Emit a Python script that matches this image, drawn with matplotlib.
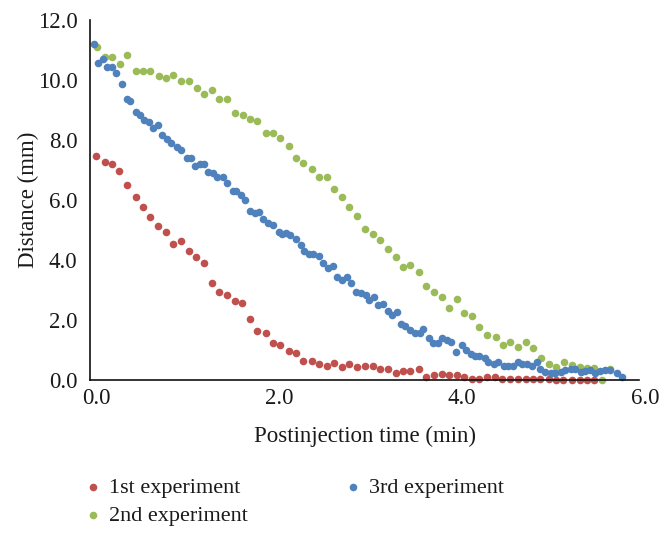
import matplotlib.pyplot as plt
import matplotlib.transforms as mtransforms

# Postinjection time (min) and distance (mm) for each experiment
time_1 = [0.07, 0.16, 0.24, 0.32, 0.41, 0.50, 0.58, 0.66, 0.74, 0.83, 0.91, 1.00, 1.08, 1.16, 1.25,
          1.33, 1.41, 1.50, 1.58, 1.66, 1.75, 1.83, 1.92, 2.00, 2.08, 2.17, 2.25, 2.33, 2.42, 2.50,
          2.59, 2.67, 2.75, 2.83, 2.92, 3.00, 3.09, 3.17, 3.25, 3.34, 3.42, 3.50, 3.59, 3.67, 3.76,
          3.84, 3.92, 4.01, 4.09, 4.17, 4.25, 4.34, 4.42, 4.50, 4.59, 4.68, 4.76, 4.84, 4.92, 5.01,
          5.09, 5.17, 5.26, 5.35, 5.43, 5.51]
dist_1 = [7.47, 7.27, 7.20, 6.96, 6.49, 6.11, 5.76, 5.44, 5.13, 4.93, 4.54, 4.62, 4.30, 4.09, 3.89,
          3.24, 2.92, 2.83, 2.64, 2.56, 2.02, 1.64, 1.56, 1.24, 1.18, 0.98, 0.89, 0.64, 0.64, 0.53,
          0.47, 0.56, 0.44, 0.53, 0.42, 0.47, 0.47, 0.36, 0.36, 0.22, 0.29, 0.29, 0.36, 0.11, 0.16,
          0.20, 0.16, 0.16, 0.11, 0.04, 0.04, 0.11, 0.11, 0.04, 0.04, 0.04, 0.04, 0.04, 0.04, 0.04,
          0.00, 0.00, 0.00, 0.00, 0.00, 0.00]

time_2 = [0.08, 0.16, 0.24, 0.33, 0.41, 0.50, 0.58, 0.66, 0.75, 0.83, 0.91, 1.00, 1.08, 1.17, 1.25,
          1.33, 1.41, 1.50, 1.58, 1.67, 1.75, 1.83, 1.92, 2.00, 2.08, 2.17, 2.25, 2.33, 2.42, 2.50,
          2.59, 2.67, 2.75, 2.83, 2.92, 3.00, 3.09, 3.17, 3.25, 3.34, 3.42, 3.50, 3.59, 3.67, 3.76,
          3.84, 3.92, 4.01, 4.09, 4.17, 4.25, 4.34, 4.43, 4.51, 4.59, 4.67, 4.76, 4.84, 4.93, 5.01,
          5.09, 5.18, 5.26, 5.35, 5.43, 5.51, 5.59, 5.68]
dist_2 = [11.11, 10.78, 10.78, 10.52, 10.83, 10.31, 10.31, 10.31, 10.13, 10.07, 10.17, 9.98, 9.98,
          9.72, 9.54, 9.67, 9.36, 9.36, 8.89, 8.82, 8.71, 8.64, 8.22, 8.22, 8.06, 7.80, 7.39, 7.22,
          7.02, 6.76, 6.78, 6.36, 6.11, 5.78, 5.47, 5.02, 4.87, 4.67, 4.36, 4.09, 3.78, 3.84, 3.60,
          3.13, 2.93, 2.76, 2.40, 2.69, 2.22, 2.14, 1.77, 1.49, 1.43, 1.17, 1.26, 1.11, 1.27, 1.06,
          0.72, 0.53, 0.43, 0.61, 0.50, 0.43, 0.39, 0.39, 0.00, 0.37]

time_3 = [0.04, 0.09, 0.14, 0.19, 0.24, 0.29, 0.35, 0.40, 0.44, 0.50, 0.55, 0.59, 0.64, 0.69, 0.74,
          0.79, 0.84, 0.89, 0.95, 1.00, 1.06, 1.10, 1.15, 1.20, 1.25, 1.29, 1.34, 1.39, 1.45, 1.50,
          1.56, 1.60, 1.65, 1.69, 1.75, 1.80, 1.85, 1.89, 1.95, 2.00, 2.06, 2.10, 2.14, 2.19, 2.25,
          2.30, 2.34, 2.39, 2.44, 2.50, 2.55, 2.60, 2.65, 2.70, 2.75, 2.81, 2.85, 2.91, 2.96, 3.01,
          3.05, 3.10, 3.15, 3.20, 3.25, 3.30, 3.35, 3.40, 3.44, 3.50, 3.55, 3.60, 3.64, 3.70, 3.75,
          3.80, 3.84, 3.90, 3.94, 4.00, 4.06, 4.11, 4.16, 4.21, 4.25, 4.31, 4.35, 4.41, 4.46, 4.52,
          4.57, 4.62, 4.67, 4.72, 4.77, 4.83, 4.88, 4.92, 4.97, 5.03, 5.08, 5.14, 5.19, 5.25, 5.30,
          5.36, 5.41, 5.46, 5.52, 5.57, 5.63, 5.68, 5.76, 5.81]
dist_3 = [11.20, 10.58, 10.69, 10.42, 10.42, 10.24, 9.87, 9.36, 9.29, 8.94, 8.83, 8.67, 8.61, 8.39,
          8.51, 8.17, 8.03, 7.91, 7.78, 7.67, 7.41, 7.41, 7.14, 7.20, 7.20, 6.94, 6.89, 6.78, 6.78,
          6.56, 6.31, 6.31, 6.17, 6.00, 5.64, 5.58, 5.60, 5.36, 5.24, 5.16, 4.93, 4.87, 4.89, 4.83,
          4.69, 4.50, 4.31, 4.20, 4.20, 4.13, 3.91, 3.72, 3.80, 3.44, 3.33, 3.42, 3.24, 2.94, 2.91,
          2.83, 2.67, 2.76, 2.50, 2.53, 2.31, 2.17, 2.27, 1.87, 1.80, 1.67, 1.56, 1.56, 1.69, 1.39,
          1.24, 1.24, 1.40, 1.33, 1.28, 0.94, 1.17, 1.00, 0.87, 0.80, 0.80, 0.72, 0.61, 0.53, 0.61,
          0.47, 0.47, 0.47, 0.61, 0.53, 0.53, 0.47, 0.61, 0.36, 0.28, 0.24, 0.22, 0.28, 0.33, 0.36,
          0.36, 0.28, 0.31, 0.33, 0.24, 0.31, 0.33, 0.33, 0.22, 0.11]

labels = ['1st experiment', '2nd experiment', '3rd experiment']
colors = ['#C0504D', '#9BBB59', '#4F81BD']
x_ticks = [0, 2, 4, 6]
y_ticks = [0, 2, 4, 6, 8, 10, 12]

plt.rcParams['font.family'] = ['Liberation Serif', 'DejaVu Serif']
txt = '#1a1a1a'

fig = plt.figure(figsize=(6.66, 5.39), dpi=100)
ax = fig.add_axes([0.135, 0.295, 0.825, 0.668])

series = [(time_1, dist_1), (time_2, dist_2), (time_3, dist_3)]
for (t, d), lab, c in zip(series, labels, colors):
    ax.scatter(t, d, s=30, color=c, label=lab, linewidths=0, clip_on=False)

ax.set_xlim(0, 6)
ax.set_ylim(0, 12)
ax.set_xticks(x_ticks)
ax.set_yticks(y_ticks)
ax.set_xticklabels([f'{v:.1f}' for v in x_ticks])
ax.set_yticklabels([f'{v:.1f}' for v in y_ticks])
ax.tick_params(length=0, labelsize=16.5, colors=txt)
ax.tick_params(axis='y', pad=9)
ax.tick_params(axis='x', pad=6)

# x tick labels sit a little to the right in the original
shift = mtransforms.ScaledTranslation(6 / 100, 0, fig.dpi_scale_trans)
for lab in ax.get_xticklabels():
    lab.set_transform(lab.get_transform() + shift)

for side in ['top', 'right']:
    ax.spines[side].set_visible(False)
for side in ['left', 'bottom']:
    ax.spines[side].set_color('#111111')
    ax.spines[side].set_linewidth(1.2)

ax.set_xlabel('Postinjection time (min)', fontsize=16.5, labelpad=12, color=txt)
ax.set_ylabel('Distance (mm)', fontsize=16.5, color=txt)
ax.yaxis.set_label_coords(-0.093, 0.5)

fig.legend(loc='upper left', bbox_to_anchor=(0.097, 0.151), ncol=2, frameon=False,
           fontsize=16, markerscale=1.0, handletextpad=0.36, columnspacing=4.4,
           labelspacing=0.33, handlelength=0.72, labelcolor=txt)

fig.savefig('out.png', dpi=100)
